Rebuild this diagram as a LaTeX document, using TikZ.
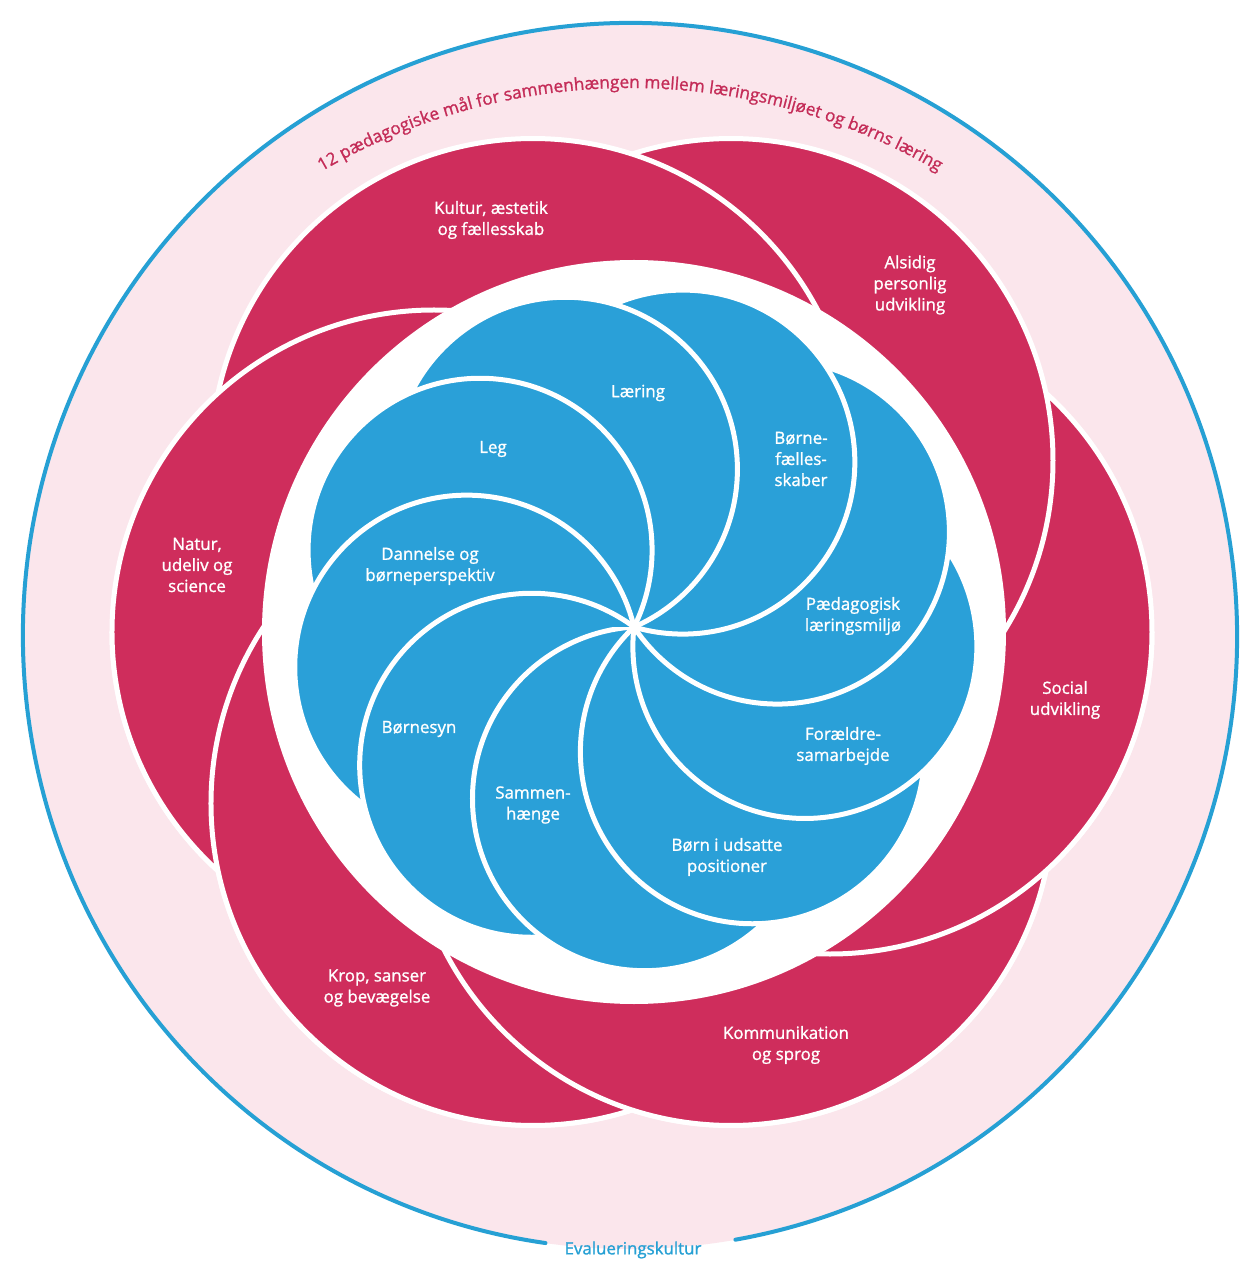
\documentclass[tikz,border=0pt]{standalone}
\usepackage{fontspec}
\setmainfont{Open Sans}
\newfontfamily\lblfam{Open Sans}[FakeBold=1.2]
\usetikzlibrary{decorations.text}
\definecolor{petalred}{RGB}{207,45,92}
\definecolor{titlered}{RGB}{196,44,88}
\definecolor{petalblue}{RGB}{42,160,216}
\definecolor{bandpink}{RGB}{251,230,236}
\definecolor{ringblue}{RGB}{38,160,212}
\newcommand{\lblfont}{\lblfam\fontsize{9.6}{12}\selectfont}
\newcommand{\ttlfont}{\lblfam\fontsize{9.8}{12}\selectfont}
\begin{document}
\begin{tikzpicture}[x=0.02cm,y=0.02cm,
  redpetal/.style={fill=petalred, draw=white, line width=0.1cm},
  bluepetal/.style={fill=petalblue, draw=white, line width=0.1cm},
  lbl/.style={text=white, align=center, font=\lblfont, inner sep=0pt}]
\useasboundingbox (-632,-636) rectangle (617,632);
\fill[white] (-632,-636) rectangle (617,632);
\fill[bandpink] (-2,-4) ellipse [x radius=607, y radius=613];
\draw[ringblue, line width=0.08cm, line cap=round] (-2,-4) ++(280:607 and 613) arc [start angle=280, end angle=622, x radius=607, y radius=613];
% red petals (counterclockwise neighbour on top)
\foreach \a in {-60,0,60,120,180,240} \draw[redpetal] (\a:198) circle [radius=322];
\begin{scope}
  \clip (-640,-640) rectangle (640,0);
  \foreach \a in {120,180,240,300,360,420} \draw[redpetal] (\a:198) circle [radius=322];
\end{scope}
% white disc
\fill[white] (2,0) circle [radius=372];
% blue petals
\begin{scope}[shift={(2,5)}]
  \foreach \a in {-86.5,-46.5,-6.5,33.5,73.5,113.5,153.5,193.5,233.5} \draw[bluepetal] (\a:172) circle [radius=172];
  \begin{scope}
    \clip (-640,-640) rectangle (640,0);
    \foreach \a in {113.5,153.5,193.5,233.5,273.5,313.5,353.5,393.5,433.5} \draw[bluepetal] (\a:172) circle [radius=172];
  \end{scope}
\end{scope}
% title along the arc
\path[decorate, decoration={text along path, text align=center, text={|\ttlfont\color{titlered}|12 pædagogiske mål for sammenhængen mellem læringsmiljøet og børns læring}}] (-2,-68) ++(140:612) arc [start angle=140, end angle=40, radius=612];
% red labels
\node[lbl] (kultur) at (-141,412) {Kultur, æstetik\\og fællesskab};
\node[lbl] (alsidig) at (278,347) {Alsidig\\personlig\\udvikling};
\node[lbl] (social) at (433,-68) {Social\\udvikling};
\node[lbl] (komm) at (154,-413) {Kommunikation\\og sprog};
\node[lbl] (krop) at (-255,-356) {Krop, sanser\\og bevægelse};
\node[lbl] (natur) at (-435,67) {Natur,\\udeliv og\\science};
% blue labels
\node[lbl] (laering) at (6,239) {Læring};
\node[lbl] (leg) at (-139,183) {Leg};
\node[lbl] (bfaelles) at (169,173) {Børne-\\fælles-\\skaber};
\node[lbl] (dannelse) at (-202,66) {Dannelse og\\børneperspektiv};
\node[lbl] (paed) at (221,16) {Pædagogisk\\læringsmiljø};
\node[lbl] (boernesyn) at (-213,-97) {Børnesyn};
\node[lbl] (foraeldre) at (211,-114) {Forældre-\\samarbejde};
\node[lbl] (sammen) at (-99,-173) {Sammen-\\hænge};
\node[lbl] (udsatte) at (95,-225) {Børn i udsatte\\positioner};
% bottom label
\node[text=ringblue, font=\lblfont] (eval) at (1,-618) {Evalueringskultur};
\end{tikzpicture}
\end{document}
